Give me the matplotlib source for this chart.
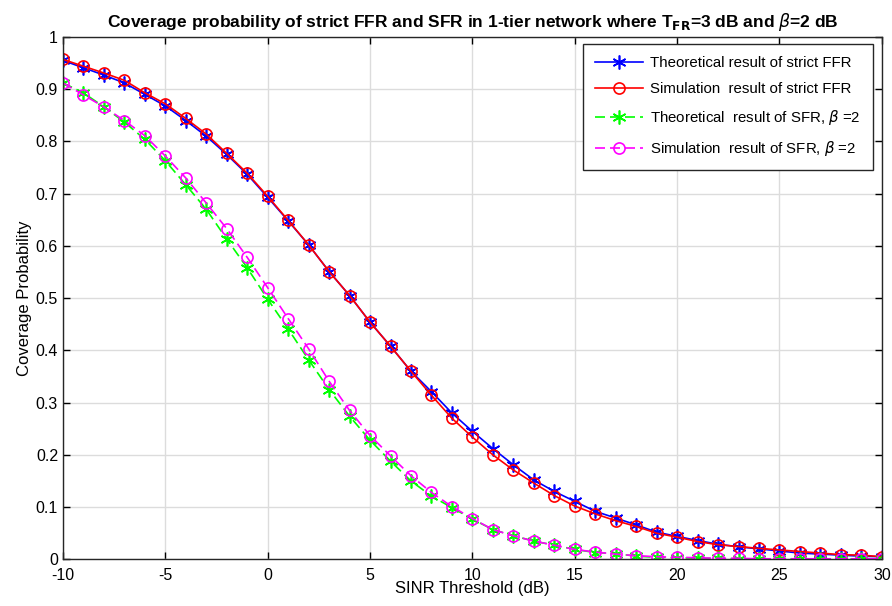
import numpy as np
import matplotlib.pyplot as plt

plt.rcParams['font.family'] = ['Liberation Sans', 'DejaVu Sans']
plt.rcParams['mathtext.fontset'] = 'dejavusans'
plt.rcParams['axes.unicode_minus'] = False

# SINR threshold (dB)
sinr_db = list(range(-10, 31))

# strict FFR, theoretical
ffr_theory = [0.955, 0.941, 0.927, 0.912, 0.890, 0.868, 0.840, 0.810, 0.775, 0.737,
              0.693, 0.648, 0.602, 0.551, 0.505, 0.454, 0.408, 0.360, 0.321, 0.280,
              0.245, 0.212, 0.181, 0.152, 0.130, 0.111, 0.092, 0.079, 0.066, 0.052,
              0.044, 0.036, 0.029, 0.024, 0.020, 0.016, 0.012, 0.010, 0.008, 0.006, 0.005]
# strict FFR, simulation
ffr_sim = [0.957, 0.944, 0.931, 0.917, 0.893, 0.872, 0.844, 0.814, 0.777, 0.739,
           0.695, 0.649, 0.602, 0.551, 0.505, 0.454, 0.408, 0.360, 0.314, 0.270,
           0.234, 0.200, 0.171, 0.146, 0.122, 0.102, 0.087, 0.074, 0.063, 0.050,
           0.0425, 0.034, 0.028, 0.0245, 0.021, 0.018, 0.015, 0.012, 0.009, 0.008, 0.005]
# SFR, theoretical
sfr_theory = [0.912, 0.893, 0.866, 0.837, 0.804, 0.763, 0.717, 0.670, 0.613, 0.558,
              0.498, 0.441, 0.382, 0.325, 0.274, 0.228, 0.188, 0.150, 0.121, 0.099,
              0.077, 0.057, 0.045, 0.035, 0.027, 0.019, 0.013, 0.011, 0.006, 0.004,
              0.003, 0.002, 0.002, 0.001, 0.001, 0.001, 0.001, 0.001, 0.001, 0.001, 0.001]
# SFR, simulation
sfr_sim = [0.912, 0.889, 0.866, 0.840, 0.811, 0.772, 0.730, 0.682, 0.633, 0.578,
           0.520, 0.461, 0.403, 0.341, 0.285, 0.237, 0.198, 0.160, 0.128, 0.101,
           0.078, 0.057, 0.045, 0.035, 0.027, 0.019, 0.014, 0.010, 0.007, 0.005,
           0.004, 0.003, 0.002, 0.002, 0.001, 0.001, 0.001, 0.001, 0.001, 0.001, 0.001]

star = (6, 2, 0)  # matlab-like asterisk

fig = plt.figure(figsize=(8.92, 6.06), dpi=100)
ax = fig.add_axes([0.0706, 0.077, 0.918, 0.862])

ax.plot(sinr_db, ffr_theory, color='blue', marker=star, markersize=10, markeredgewidth=1.2,
        linewidth=1.2, label='Theoretical result of strict FFR')
ax.plot(sinr_db, ffr_sim, color='red', marker='o', markersize=8, markerfacecolor='none',
        markeredgewidth=1.2, linewidth=1.2, label='Simulation  result of strict FFR')
ax.plot(sinr_db, sfr_theory, color='#00ff00', marker=star, markersize=10, markeredgewidth=1.2,
        linestyle=(0, (6, 3)), linewidth=1.2, label=r'Theoretical  result of SFR, $\beta$ =2')
ax.plot(sinr_db, sfr_sim, color='magenta', marker='o', markersize=8, markerfacecolor='none',
        markeredgewidth=1.2, linestyle=(0, (6, 3)), linewidth=1.2,
        label=r'Simulation  result of SFR, $\beta$ =2')

ax.set_xlim(-10, 30)
ax.set_ylim(0, 1)
ax.set_xticks(range(-10, 31, 5))
ax.set_yticks(np.arange(0, 1.01, 0.1))
ax.set_yticklabels(['0', '0.1', '0.2', '0.3', '0.4', '0.5', '0.6', '0.7', '0.8', '0.9', '1'])
ax.tick_params(direction='in', top=True, right=True, labelsize=11.5, length=5, width=1)
ax.tick_params(axis='x', pad=6)
ax.grid(True, color='#dcdcdc', linewidth=1)
ax.set_axisbelow(True)
for s in ax.spines.values():
    s.set_linewidth(1)
    s.set_color('#262626')

ax.set_xlabel('SINR Threshold (dB)', fontsize=12, labelpad=-1)
ax.set_ylabel('Coverage Probability', fontsize=12, labelpad=3)
ax.set_title(r'Coverage probability of strict FFR and SFR in 1-tier network where T$_{\mathbf{FR}}$=3 dB and $\beta$=2 dB',
             fontsize=12.5, fontweight='bold', pad=7)

leg = ax.legend(loc='upper right', fontsize=10.8, fancybox=False, framealpha=1,
                edgecolor='#262626', handlelength=3.2, handletextpad=0.5, borderpad=0.8,
                labelspacing=0.8, borderaxespad=0, bbox_to_anchor=(0.989, 0.987))
leg.get_frame().set_linewidth(1)

fig.savefig('out.png', dpi=100)
